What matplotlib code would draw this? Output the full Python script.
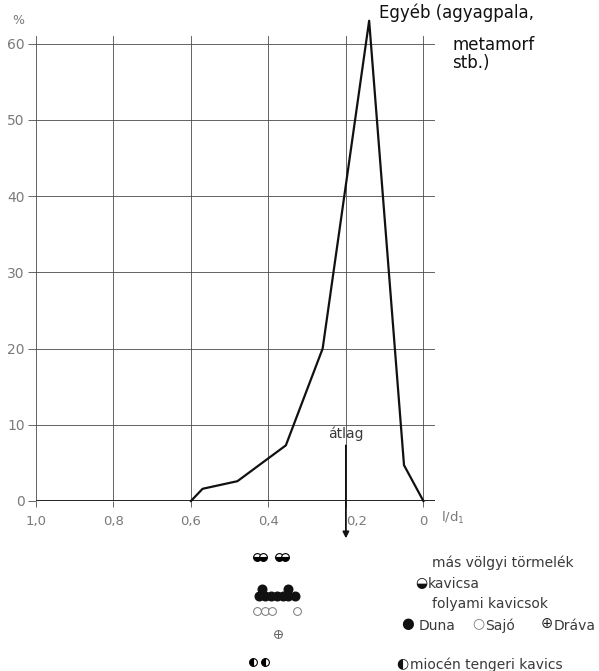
import matplotlib
matplotlib.use('Agg')
import matplotlib.pyplot as plt

# shape curve: l/d1 ratio vs. percentage ("egyéb" pebbles)
ratio = [0.60, 0.57, 0.48, 0.355, 0.26, 0.14, 0.05, 0.0]
percent = [0, 1.6, 2.6, 7.3, 20, 63, 4.7, 0]
atlag = 0.2

# mean l/d1 values of other gravel groups (shown under the x axis)
valley_gravel = [0.43, 0.414, 0.373, 0.358]
duna = [0.425, 0.417, 0.408, 0.393, 0.377, 0.363, 0.35, 0.35, 0.332]
duna_stacked = [False, True, False, False, False, False, True, False, False]
sajo = [0.429, 0.41, 0.391, 0.327]
drava = [0.376]
miocen = [0.441, 0.41]

x_ticks = [1.0, 0.8, 0.6, 0.4, 0.2, 0.0]
x_ticklabels = ['1,0', '0,8', '0,6', '0,4', '0,2', '0']
y_ticks = [0, 10, 20, 30, 40, 50, 60]

W, H = 599, 671
fig = plt.figure(figsize=(W / 100, H / 100), dpi=100)

def fx(px):
    return px / W

def fy(py):
    return 1 - py / H

grid_col = '#4a4a4a'
label_col = '#7a7a7a'
text_col = '#3a3a3a'

ax = fig.add_axes([fx(36), fy(501), fx(435) - fx(36), fy(36) - fy(501)])
ax.set_xlim(1.0, -0.03)
ax.set_ylim(0, 61)
for s in ax.spines.values():
    s.set_visible(False)
ax.set_xticks(x_ticks)
ax.set_xticklabels(x_ticklabels)
ax.set_yticks(y_ticks)
ax.grid(True, color=grid_col, lw=0.6)
ax.tick_params(axis='y', length=6, width=0.6, color=grid_col, pad=2,
               labelsize=10, labelcolor=label_col)
ax.tick_params(axis='x', length=4, width=0.6, color=grid_col, pad=6,
               labelsize=9.5, labelcolor=label_col)
for lab in ax.get_xticklabels():
    if lab.get_text() == '0,2':
        lab.set_ha('left')
ax.axhline(0, color='#222222', lw=1.4)

ax.plot(ratio, percent, color='#111111', lw=1.6, clip_on=False, zorder=5)

# mean arrow
ax.annotate('', xy=(atlag, -4.9), xytext=(atlag, 7.3),
            arrowprops=dict(arrowstyle='-|>', color='#111111', lw=1.3,
                            mutation_scale=9, shrinkA=0, shrinkB=0),
            annotation_clip=False)
ax.text(atlag, 8.2, 'átlag', ha='center', va='baseline', fontsize=10,
        color=text_col)

# lower strip with the other gravel groups
ax2 = fig.add_axes([fx(36), 0, fx(435) - fx(36), fy(545)], sharex=ax)
ax2.set_ylim(126, 0)
ax2.axis('off')
row = {'valley': 12, 'duna': 51, 'sajo': 66, 'drava': 89, 'miocen': 117}
ms = 5.6
ax2.plot(valley_gravel, [row['valley']] * len(valley_gravel), 'o', ms=ms,
         fillstyle='bottom', mfc='k', mfcalt='white', mec='k', mew=0.8,
         clip_on=False)
duna_y = [row['duna'] - 7 if s else row['duna'] for s in duna_stacked]
ax2.plot(duna, duna_y, 'o', ms=ms + 0.6, color='#111111', mec='#111111',
         clip_on=False)
ax2.plot(sajo, [row['sajo']] * len(sajo), 'o', ms=ms, mfc='white',
         mec='#777777', mew=0.7, clip_on=False)
ax2.plot(drava, [row['drava']] * len(drava), 'o', ms=ms, mfc='white',
         mec='#666666', mew=0.7, clip_on=False)
ax2.plot(drava, [row['drava']] * len(drava), '+', ms=ms, color='#666666',
         mew=0.7, clip_on=False)
ax2.plot(miocen, [row['miocen']] * len(miocen), 'o', ms=ms,
         fillstyle='left', mfc='k', mfcalt='white', mec='k', mew=0.8,
         clip_on=False)

# texts
fig.text(fx(18), fy(21), '%', ha='center', va='center', fontsize=9,
         color=label_col)
fig.text(fx(441), fy(518), 'l/d$_1$', ha='left', va='center', fontsize=9.5,
         color=label_col)
fig.text(fx(379), fy(18), 'Egyéb (agyagpala,', ha='left', va='baseline',
         fontsize=12, color='#111111')
fig.text(fx(452), fy(50), 'metamorf', ha='left', va='baseline',
         fontsize=12, color='#111111')
fig.text(fx(452), fy(68), 'stb.)', ha='left', va='baseline',
         fontsize=12, color='#111111')

fig.text(fx(432), fy(567), 'más völgyi törmelék', ha='left', va='baseline',
         fontsize=10, color=text_col)
fig.text(fx(421), fy(583), '◒', ha='center', va='center',
         fontsize=10, color='#111111')
fig.text(fx(428), fy(588), 'kavicsa', ha='left', va='baseline',
         fontsize=10, color=text_col)
fig.text(fx(432), fy(608), 'folyami kavicsok', ha='left', va='baseline',
         fontsize=10, color=text_col)
fig.text(fx(408), fy(623), '●', ha='center', va='center',
         fontsize=10.5, color='#111111')
fig.text(fx(419), fy(630), 'Duna', ha='left', va='baseline',
         fontsize=10, color=text_col)
fig.text(fx(478), fy(623), '○', ha='center', va='center',
         fontsize=10, color=label_col)
fig.text(fx(485), fy(630), 'Sajó', ha='left', va='baseline',
         fontsize=10, color=text_col)
fig.text(fx(547), fy(623), '⊕', ha='center', va='center',
         fontsize=10.5, color='#222222')
fig.text(fx(554), fy(630), 'Dráva', ha='left', va='baseline',
         fontsize=10, color=text_col)
fig.text(fx(402), fy(663), '◐', ha='center', va='center',
         fontsize=10, color='#111111')
fig.text(fx(410), fy(669), 'miocén tengeri kavics', ha='left',
         va='baseline', fontsize=10, color=text_col)

fig.savefig('out.png', dpi=100, facecolor='white')
